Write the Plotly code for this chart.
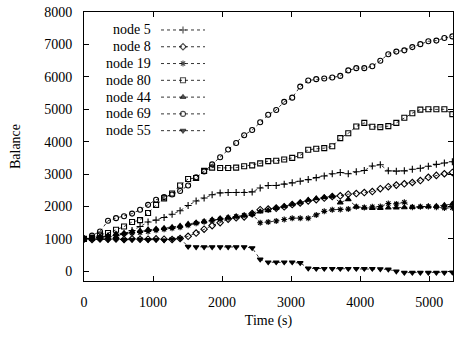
import plotly.graph_objects as go

# ---------------- data ----------------
TIME = [0, 116, 232, 348, 464, 580, 696, 812, 928, 1044, 1160, 1276, 1392, 1508,
        1624, 1740, 1856, 1972, 2088, 2204, 2320, 2436, 2552, 2668, 2784, 2900,
        3016, 3132, 3248, 3364, 3480, 3596, 3712, 3828, 3944, 4060, 4176, 4292,
        4408, 4524, 4640, 4756, 4872, 4988, 5104, 5220, 5336]

NODE_5 = [1000, 1020, 1050, 1070, 1100, 1150, 1260, 1380, 1520, 1580, 1660, 1760,
          1870, 2030, 2170, 2260, 2360, 2420, 2430, 2430, 2430, 2450, 2570, 2650,
          2650, 2690, 2730, 2780, 2830, 2890, 2940, 3010, 3050, 3010, 3070, 3110,
          3250, 3290, 3100, 3090, 3100, 3150, 3180, 3240, 3300, 3340, 3380]

NODE_8 = [1000, 980, 1000, 990, 1000, 980, 1000, 990, 990, 1000, 990, 980, 1010,
          1080, 1180, 1300, 1410, 1500, 1610, 1650, 1680, 1780, 1900, 1920, 1950,
          1990, 2060, 2110, 2170, 2210, 2260, 2310, 2330, 2380, 2400, 2430, 2460,
          2550, 2610, 2660, 2700, 2740, 2800, 2900, 2960, 3010, 3050]

NODE_19 = [1000, 1020, 1050, 1080, 1120, 1150, 1180, 1200, 1230, 1270, 1300, 1330,
           1360, 1420, 1480, 1530, 1570, 1610, 1650, 1690, 1730, 1760, 1500, 1520,
           1550, 1600, 1640, 1640, 1640, 1740, 1850, 1900, 1910, 1920, 1990, 1970,
           1990, 2000, 2090, 2080, 2130, 1980, 1990, 2000, 1980, 1950, 1960]

NODE_80 = [1000, 1030, 1130, 1180, 1280, 1380, 1520, 1580, 1800, 2050, 2250, 2400,
           2650, 2850, 2880, 3100, 3200, 3190, 3190, 3200, 3240, 3270, 3330, 3400,
           3410, 3450, 3500, 3580, 3750, 3780, 3800, 3860, 4110, 4260, 4470, 4580,
           4460, 4450, 4480, 4580, 4740, 4880, 4990, 5000, 5000, 5000, 4850]

NODE_44 = [1000, 1030, 1060, 1100, 1150, 1180, 1220, 1250, 1290, 1310, 1330, 1360,
           1400, 1460, 1500, 1540, 1590, 1630, 1660, 1690, 1720, 1760, 1840, 1880,
           1950, 2000, 2060, 2120, 2200, 2250, 2280, 2310, 2120, 2220, 1990, 1960,
           1950, 1950, 1960, 1960, 1970, 1980, 1990, 2000, 2010, 2040, 2080]

NODE_69 = [1000, 1100, 1230, 1560, 1640, 1700, 1780, 1900, 2050, 2210, 2290, 2370,
           2480, 2650, 2900, 3080, 3300, 3520, 3760, 3960, 4200, 4360, 4600, 4830,
           4980, 5230, 5360, 5700, 5890, 5930, 5950, 5980, 6030, 6200, 6270, 6270,
           6330, 6500, 6700, 6780, 6820, 6920, 7010, 7100, 7120, 7200, 7250]

NODE_55 = [1000, 990, 1000, 980, 1000, 970, 980, 990, 970, 980, 960, 990, 1020,
           760, 750, 750, 750, 750, 750, 750, 750, 720, 370, 280, 280, 280, 280,
           260, 90, 80, 80, 80, 80, 80, 80, 80, 80, 70, 60, 0, -40, -40, -40, -40,
           -40, -40, -30]

LABELS = ["node 5", "node 8", "node 19", "node 80", "node 44", "node 69", "node 55"]
SERIES = [NODE_5, NODE_8, NODE_19, NODE_80, NODE_44, NODE_69, NODE_55]
SYMBOLS = ["cross-thin", "diamond-open", "asterisk-open", "square-open",
           "triangle-up", "circle-open", "triangle-down"]

X_TICKS = [0, 1000, 2000, 3000, 4000, 5000]
Y_TICKS = [0, 1000, 2000, 3000, 4000, 5000, 6000, 7000, 8000]

# ---------------- layout constants ----------------
W, H = 454, 339
PLOT_L, PLOT_R, PLOT_T, PLOT_B = 84, 453, 12, 281.3   # page pixels of the frame
ML = PLOT_L
MT = PLOT_T
MR = W - PLOT_R
MB = H - PLOT_B
FONT = "Liberation Serif"
PW = W - ML - MR
PH = H - MT - MB
MSIZE = 5


def px_x(p):
    return (p - PLOT_L) / PW


def px_y(p):
    return (PLOT_B - p) / PH


fig = go.Figure()

for lab, ys, sym in zip(LABELS, SERIES, SYMBOLS):
    fig.add_trace(go.Scatter(
        x=TIME, y=ys, name=lab, mode="lines+markers",
        line=dict(color="black", width=0.8, dash="dot"),
        marker=dict(symbol=sym, size=MSIZE, color="black",
                    line=dict(color="black", width=1.1)),
        showlegend=False,
    ))

# gnuplot-style key: right-aligned text, then sample line with marker
row0, step = 30, 16.8
for i, (lab, sym) in enumerate(zip(LABELS, SYMBOLS)):
    py = row0 + i * step
    fig.add_annotation(
        x=px_x(153), y=px_y(py), xref="paper", yref="paper",
        text=lab, showarrow=False, xanchor="right", yanchor="middle",
        font=dict(family=FONT, size=14, color="black"),
    )
    fig.add_trace(go.Scatter(
        x=[px_x(161), px_x(183), px_x(205)], y=[px_y(py)] * 3,
        xaxis="x2", yaxis="y2", mode="lines+markers",
        line=dict(color="black", width=0.8, dash="dot"),
        marker=dict(symbol=sym, size=[0, MSIZE, 0], color="black",
                    line=dict(color="black", width=1.1)),
        showlegend=False, hoverinfo="skip",
    ))

axis_common = dict(
    showline=True, linecolor="black", linewidth=1, mirror="ticks",
    ticks="inside", ticklen=5, tickcolor="black", tickwidth=1,
    showgrid=False, zeroline=False, automargin=False,
    tickfont=dict(family=FONT, size=14, color="black"),
)

fig.update_layout(
    width=W, height=H,
    margin=dict(l=ML, r=MR, t=MT, b=MB, pad=0),
    paper_bgcolor="white", plot_bgcolor="white",
    font=dict(family=FONT, size=14, color="black"),
    xaxis=dict(range=[0, 5345], tickvals=X_TICKS,
               title=dict(text="Time (s)", font=dict(family=FONT, size=14), standoff=6),
               ticklabelstandoff=8, **axis_common),
    yaxis=dict(range=[-300, 8003], tickvals=Y_TICKS,
               title=dict(text="Balance", font=dict(family=FONT, size=14), standoff=20),
               ticklabelstandoff=8, **axis_common),
    xaxis2=dict(overlaying="x", range=[0, 1], visible=False),
    yaxis2=dict(overlaying="y", range=[0, 1], visible=False),
    showlegend=False,
)

fig.write_html(
    "out.html",
    config={"displayModeBar": False},
    post_script="document.body.style.margin='0';document.body.style.overflow='hidden';",
)
